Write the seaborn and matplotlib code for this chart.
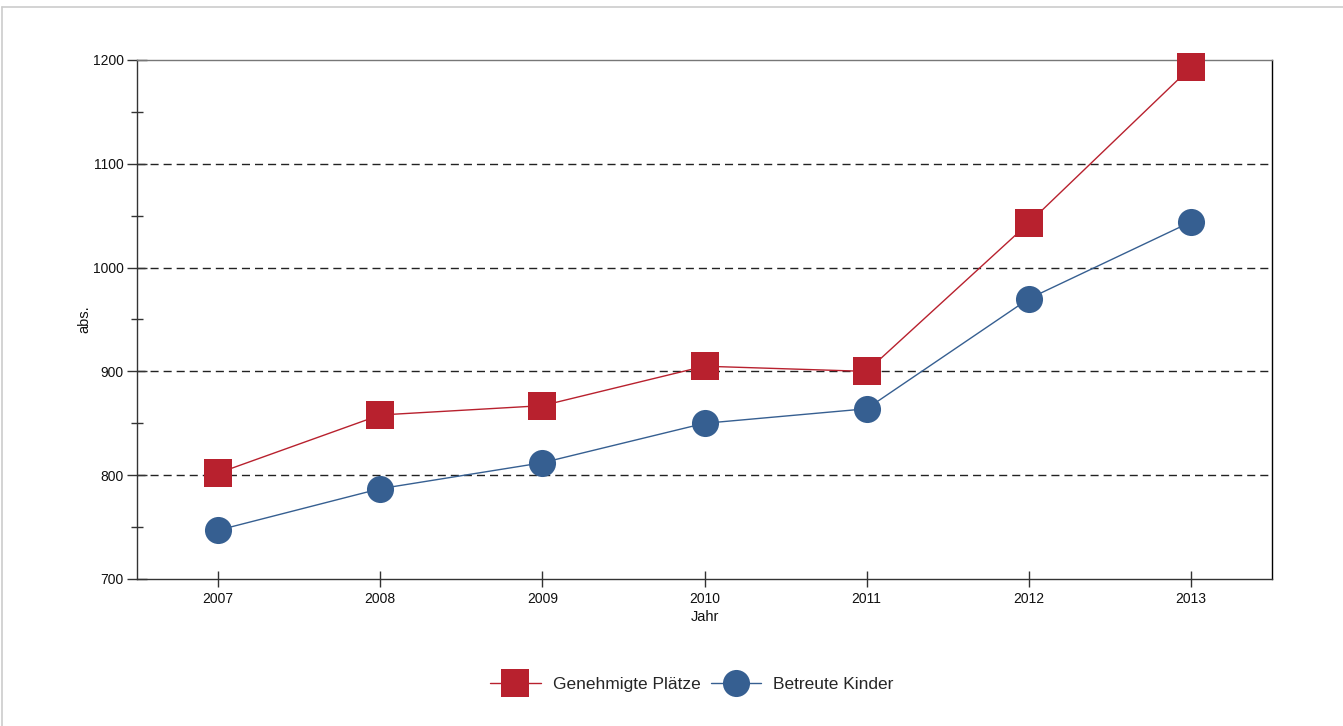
import matplotlib
matplotlib.use("Agg")
import matplotlib.pyplot as plt
import matplotlib.ticker as mticker
from matplotlib.lines import Line2D
import seaborn as sns
import pandas as pd

years = [2007, 2008, 2009, 2010, 2011, 2012, 2013]
genehmigte_plaetze = [802, 858, 867, 905, 900, 1043, 1193]
betreute_kinder = [747, 787, 812, 850, 864, 970, 1044]
series_names = ["Genehmigte Plätze", "Betreute Kinder"]
y_ticks = [700, 800, 900, 1000, 1100, 1200]
grid_values = [800, 900, 1000, 1100]

sns.set_theme(style="white")
plt.rcParams["font.family"] = ["Liberation Sans", "DejaVu Sans"]

df = pd.DataFrame({
    "Jahr": years * 2,
    "Wert": genehmigte_plaetze + betreute_kinder,
    "Serie": [series_names[0]] * len(years) + [series_names[1]] * len(years),
})

red = "#B8212E"
blue = "#365F91"

fig = plt.figure(figsize=(13.43, 7.26), dpi=100)
fig.patch.set_facecolor("white")
ax = fig.add_axes([137 / 1343, 1 - 579 / 726, (1272 - 137) / 1343, (579 - 60) / 726])

sns.lineplot(data=df, x="Jahr", y="Wert", hue="Serie", style="Serie",
             hue_order=series_names, style_order=series_names,
             palette={series_names[0]: red, series_names[1]: blue},
             markers={series_names[0]: "s", series_names[1]: "o"},
             dashes=False, markersize=19.5, markeredgewidth=0,
             linewidth=1.0, legend=False, ax=ax)
for ln in ax.lines:
    ln.set_clip_on(False)
    ln.set_zorder(3)

ax.set_xlim(2006.5, 2013.5)
ax.set_ylim(700, 1200)
ax.set_xticks(years)
ax.set_xticklabels([str(y) for y in years])
ax.set_yticks(y_ticks)
ax.yaxis.set_minor_locator(mticker.MultipleLocator(50))

for g in grid_values:
    ax.axhline(g, color="#222222", linewidth=1.0, linestyle=(0, (5.8, 3.6)), zorder=0.5)

ax.tick_params(axis="y", which="major", direction="inout", length=15, width=1,
               color="#333333", labelsize=10, labelcolor="#111111", pad=2, left=True)
ax.tick_params(axis="y", which="minor", direction="inout", length=8, width=1,
               color="#333333", left=True)
ax.tick_params(axis="x", which="major", direction="inout", length=11.5, width=1,
               color="#333333", labelsize=10, labelcolor="#111111", pad=3.5, bottom=True)

ax.spines["left"].set_color("#333333")
ax.spines["bottom"].set_color("#333333")
ax.spines["top"].set_color("#777777")
ax.spines["right"].set_color("#000000")
for s in ax.spines.values():
    s.set_linewidth(1.0)

ax.set_xlabel("Jahr", fontsize=10.5, labelpad=3, color="#111111")
ax.set_ylabel("abs.", fontsize=10.5, labelpad=1, color="#111111")

handles = ax.lines[:2]
fig.legend(handles, series_names, loc="center",
           bbox_to_anchor=(692 / 1343, 1 - 684 / 726), ncol=2, frameon=False,
           fontsize=12.5, handlelength=2.9, handletextpad=0.7, columnspacing=0.6,
           markerscale=1.0)

# outer light frame
fig.add_artist(Line2D([2 / 1343, 1], [1 - 7 / 726, 1 - 7 / 726], transform=fig.transFigure,
                      color="#cccccc", linewidth=1.2))
fig.add_artist(Line2D([2 / 1343, 2 / 1343], [0, 1 - 7 / 726], transform=fig.transFigure,
                      color="#cccccc", linewidth=1.2))

fig.savefig("out.png", dpi=100, facecolor="white")
